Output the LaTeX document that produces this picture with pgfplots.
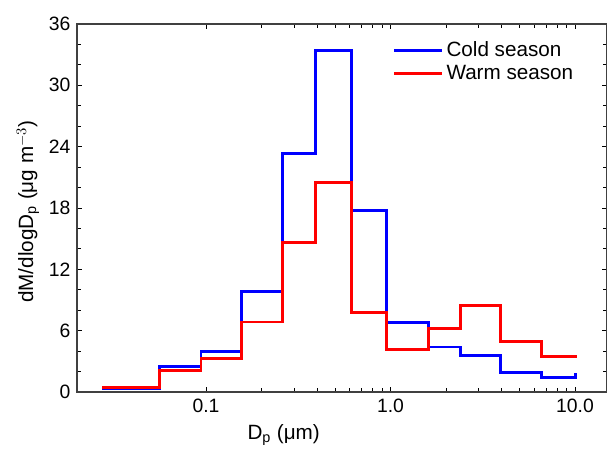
\documentclass[border=0pt]{standalone}
\usepackage{pgfplots}
\pgfplotsset{compat=1.18}
\usepackage{fontspec}
\setmainfont{Liberation Sans}
\definecolor{cblue}{RGB}{0,0,255}
\definecolor{cred}{RGB}{255,0,0}
\begin{document}
\fontsize{14.5}{17}\selectfont
\begin{tikzpicture}
\begin{axis}[
  at={(0,0)}, anchor=south west,
  scale only axis,
  width=397.5pt, height=276pt,
  xmode=log,
  xmin=0.02, xmax=14.9,
  ymin=0, ymax=36,
  xtick={0.1,1,10},
  xticklabels={0.1,1.0,10.0},
  minor xtick={},
  ytick={0,6,12,18,24,30,36},
  minor y tick num=2,
  tick align=inside,
  major tick length=4pt,
  minor tick length=2.8pt,
  tick style={black, line width=0.7pt},
  axis line style={black!75, line width=0.9pt},
  /pgf/number format/assume math mode=true,
  tick label style={font=\fontsize{14.5}{17}\selectfont},
  label style={font=\fontsize{15.5}{18}\selectfont},
  xlabel={D$_\mathrm{p}$ (μm)},
  ylabel={dM/dlogD$_\mathrm{p}$ (μg m$^{-3}$)},
  xlabel style={at={(axis description cs:0.39,-0.118)}, anchor=center},
  ylabel style={at={(axis description cs:-0.0925,0.49)}, anchor=center},
  legend style={at={(rel axis cs:0.588,0.968)}, anchor=north west, draw=none, fill=none,
    font=\fontsize{15.5}{18}\selectfont, row sep=0.5pt,
    /tikz/every even column/.append style={column sep=6pt}},
  legend cell align=left,
  legend image code/.code={\draw[#1] (0pt,0pt) -- (36pt,0pt);},
]
\addplot[const plot, cblue, line width=2.2pt, line join=miter] coordinates {
 (0.0274,0.35) (0.0557,2.45) (0.094,4.0) (0.155,9.8) (0.261,23.3) (0.390,33.4)
 (0.617,17.8) (0.955,6.8) (1.61,4.4) (2.40,3.6) (3.96,1.9) (6.59,1.4) (10.0,1.9)};
\addlegendentry{Cold season}
\addplot[const plot, cred, line width=2.2pt, line join=miter] coordinates {
 (0.0274,0.45) (0.0557,2.1) (0.094,3.3) (0.155,6.85) (0.261,14.6) (0.390,20.45)
 (0.617,7.8) (0.955,4.15) (1.61,6.25) (2.40,8.45) (3.96,4.9) (6.59,3.5) (10.0,3.6)};
\addlegendentry{Warm season}
\end{axis}
\pgfresetboundingbox
\path (-57.75pt,-43.5pt) rectangle (397.5pt,294pt);
\end{tikzpicture}
\end{document}
